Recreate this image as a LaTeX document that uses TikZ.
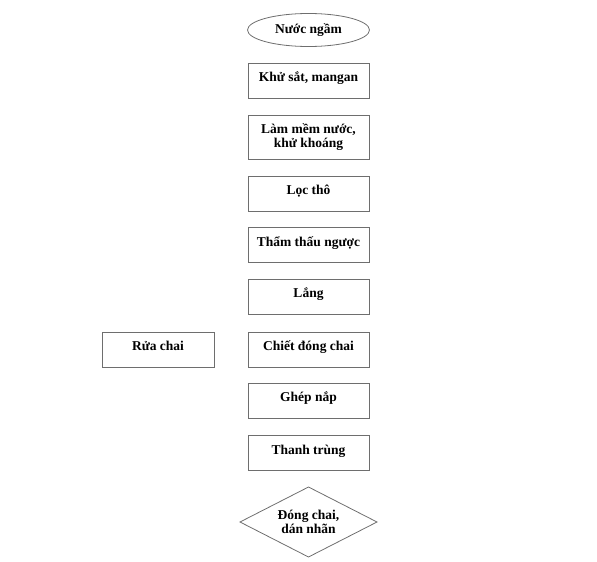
\documentclass[tikz,border=0pt]{standalone}
\usepackage{fontspec}
\setmainfont{Liberation Serif}
\usetikzlibrary{shapes.geometric}
\definecolor{edge}{RGB}{110,110,110}

\begin{document}
\begin{tikzpicture}[x=1pt,y=-1pt,
  font=\fontsize{13.5}{14}\selectfont\bfseries,
  stepbox/.style={draw=edge,line width=0.8pt,minimum width=121pt,minimum height=35pt,inner sep=0pt,align=center,text height=9pt,text depth=7pt},
  twoline/.style={text height=,text depth=}]
\useasboundingbox (0,0) rectangle (597,562);
\node[draw=edge,line width=0.8pt,ellipse,minimum width=122pt,minimum height=33pt,inner sep=0pt,text height=11pt,text depth=5pt] (nguon) at (308.5,30) {Nước ngầm};
\node[stepbox] (khusat) at (308.5,80.5) {Khử sắt, mangan};
\node[stepbox,twoline,minimum height=44pt] (lammem) at (308.5,137) {Làm mềm nước,\\khử khoáng};
\node[stepbox] (loctho) at (308.5,193.5) {Lọc thô};
\node[stepbox] (thamthau) at (308.5,245) {Thẩm thấu ngược};
\node[stepbox] (lang) at (308.5,296.5) {Lắng};
\node[stepbox] (chiet) at (308.5,349.5) {Chiết đóng chai};
\node[stepbox,minimum width=112pt] (ruachai) at (158,349.5) {Rửa chai};
\node[stepbox] (ghepnap) at (308.5,400.5) {Ghép nắp};
\node[stepbox] (thanhtrung) at (308.5,453) {Thanh trùng};
% diamond drawn by hand
\node[align=center] (dongchai) at (308.5,522) {Đóng chai,\\dán nhãn};
\draw[edge,line width=0.8pt] (240,522) -- (308.5,487) -- (377,522) -- (308.5,557) -- cycle;
\end{tikzpicture}
\end{document}
